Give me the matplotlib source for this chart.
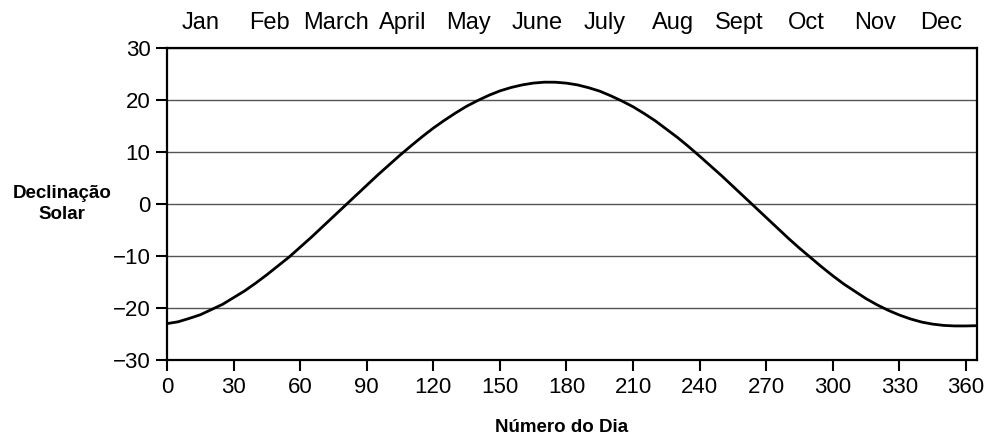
import matplotlib
matplotlib.use("Agg")
import matplotlib.pyplot as plt

plt.rcParams['font.family'] = ['Liberation Sans', 'DejaVu Sans']

# Day number and solar declination (degrees)
days = [0, 5, 10, 15, 20, 25, 30, 35, 40, 45, 50, 55, 60, 65, 70, 75, 80, 85,
        90, 95, 100, 105, 110, 115, 120, 125, 130, 135, 140, 145, 150, 155,
        160, 165, 170, 175, 180, 185, 190, 195, 200, 205, 210, 215, 220, 225,
        230, 235, 240, 245, 250, 255, 260, 265, 270, 275, 280, 285, 290, 295,
        300, 305, 310, 315, 320, 325, 330, 335, 340, 345, 350, 355, 360, 365]
declination = [-23.0, -22.65, -22.0, -21.3, -20.3, -19.3, -18.0, -16.7, -15.2,
               -13.6, -11.9, -10.2, -8.3, -6.4, -4.4, -2.4, -0.4, 1.6,
               3.6, 5.6, 7.5, 9.4, 11.2, 12.95, 14.6, 16.1, 17.5, 18.8,
               19.9, 20.9, 21.75, 22.4, 22.9, 23.25, 23.43, 23.42, 23.24, 22.9,
               22.36, 21.7, 20.8, 19.8, 18.7, 17.4, 16.0, 14.4,
               12.8, 11.05, 9.2, 7.3, 5.4, 3.4, 1.4, -0.6, -2.6, -4.6,
               -6.6, -8.5, -10.3, -12.1, -13.8, -15.4, -16.8, -18.2, -19.4,
               -20.45, -21.35, -22.1, -22.7, -23.1, -23.35, -23.45, -23.45,
               -23.4]

months = ["Jan", "Feb", "March", "April", "May", "June", "July", "Aug",
          "Sept", "Oct", "Nov", "Dec"]
month_pos = [15, 46, 76, 106, 136, 167, 197, 228, 258, 288, 319, 349]

x_ticks = list(range(0, 361, 30))
y_ticks = [-30, -20, -10, 0, 10, 20, 30]
y_ticklabels = ["\u221230", "\u221220", "\u221210", "0", "10", "20", "30"]

fig = plt.figure(figsize=(9.89, 4.36), dpi=100)
ax = fig.add_axes([0.1689, 0.1743, 0.8190, 0.7156])

for y in y_ticks:
    ax.axhline(y, color="#555555", lw=1.0, zorder=1)

ax.plot(days, declination, color="black", lw=2.0, zorder=3)

ax.set_xlim(0, 365)
ax.set_ylim(-30, 30)
ax.set_xticks(x_ticks)
ax.set_yticks(y_ticks)
ax.set_yticklabels(y_ticklabels)
ax.tick_params(axis="both", direction="out", length=8, width=1.5,
               labelsize=16, pad=4, color="black")
for s in ax.spines.values():
    s.set_linewidth(1.6)
    s.set_color("black")

for m, p in zip(months, month_pos):
    ax.text(p, 1.045, m, transform=ax.get_xaxis_transform(), ha="center",
            va="bottom", fontsize=17)

fig.text(62 / 989, 1 - 204 / 436, "Declinação\nSolar", ha="center", va="center",
         fontsize=13.5, fontweight="bold", linespacing=1.35)
fig.text(562 / 989, 1 - 427 / 436, "Número do Dia", ha="center", va="center",
         fontsize=13.5, fontweight="bold")

fig.savefig("out.png", dpi=100)
